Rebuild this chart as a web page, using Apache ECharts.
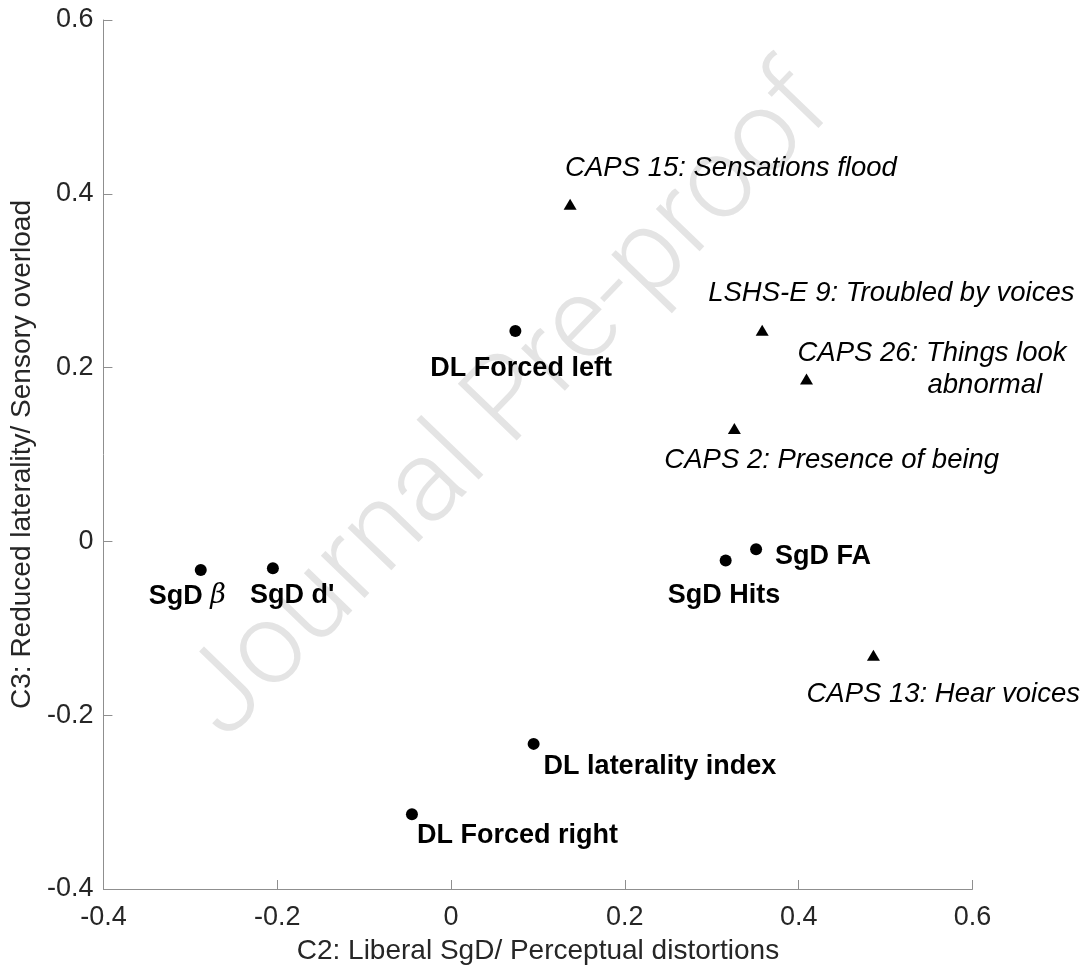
<!DOCTYPE html>
<html>
<head>
<meta charset="utf-8">
<script src="https://cdn.jsdelivr.net/npm/echarts@6/dist/echarts.min.js"></script>
<style>html,body{margin:0;padding:0;background:#fff;}#chart{width:1088px;height:970px;}</style>
</head>
<body>
<div id="chart"></div>
<script>
// ---- data ----
const circleNames = ['SgD β', "SgD d'", 'DL Forced left', 'SgD Hits', 'SgD FA', 'DL laterality index', 'DL Forced right'];
const circleX = [-0.288, -0.205, 0.074, 0.316, 0.351, 0.095, -0.045];
const circleY = [-0.033, -0.031, 0.242, -0.022, -0.009, -0.233, -0.314];

const triNames = ['CAPS 15: Sensations flood', 'LSHS-E 9: Troubled by voices', 'CAPS 26: Things look abnormal', 'CAPS 2: Presence of being', 'CAPS 13: Hear voices'];
const triX = [0.137, 0.358, 0.409, 0.326, 0.486];
const triY = [0.388, 0.243, 0.187, 0.130, -0.131];

const xTicks = [-0.4, -0.2, 0, 0.2, 0.4, 0.6];
const yTicks = [-0.4, -0.2, 0, 0.2, 0.4, 0.6];
const xTitle = 'C2: Liberal SgD/ Perceptual distortions';
const yTitle = 'C3: Reduced laterality/ Sensory overload';
const watermark = 'Journal Pre-proof';

// ---- label placement (offsets from marker centre to text left edge / middle) ----
const labelLayout = {
  'SgD β': [-52, 26],
  "SgD d'": [-23, 27],
  'DL Forced left': [-85, 37],
  'SgD Hits': [-58, 35],
  'SgD FA': [19, 7],
  'DL laterality index': [10, 23],
  'DL Forced right': [5, 21],
  'CAPS 15: Sensations flood': [-5, -36],
  'LSHS-E 9: Troubled by voices': [-54, -37],
  'CAPS 26: Things look abnormal': [-9, -10],
  'CAPS 2: Presence of being': [-70, 32],
  'CAPS 13: Hear voices': [-67, 39]
};

const FONT = "'Liberation Sans', Arial, Helvetica, sans-serif";
const TXT = '#000000';

function makeData(names, xs, ys) {
  return names.map((n, i) => ({
    name: n,
    value: [xs[i], ys[i]],
    label: { offset: labelLayout[n] }
  }));
}

const chart = echarts.init(document.getElementById('chart'), null, { renderer: 'canvas' });

const option = {
  backgroundColor: '#ffffff',
  animation: false,
  grid: { left: 101, right: 115.5, top: 20, bottom: 78, containLabel: false },
  xAxis: {
    type: 'value',
    min: xTicks[0], max: xTicks[xTicks.length - 1], interval: 0.2,
    name: xTitle, nameLocation: 'middle', nameGap: 48,
    nameTextStyle: { fontFamily: FONT, fontSize: 28, color: '#262626' },
    axisLine: { show: true, onZero: false, lineStyle: { color: '#8f8f8f', width: 1 } },
    axisTick: { show: true, inside: true, length: 9, lineStyle: { color: '#8f8f8f', width: 1 } },
    axisLabel: { fontFamily: FONT, fontSize: 27, color: '#262626', margin: 15,
      formatter: v => String(Math.round(v * 10) / 10) },
    splitLine: { show: false }
  },
  yAxis: {
    type: 'value',
    min: yTicks[0], max: yTicks[yTicks.length - 1], interval: 0.2,
    name: yTitle, nameLocation: 'middle', nameGap: 66, nameRotate: 90,
    nameTextStyle: { fontFamily: FONT, fontSize: 28, color: '#262626' },
    axisLine: { show: true, onZero: false, lineStyle: { color: '#8f8f8f', width: 1 } },
    axisTick: { show: true, inside: true, length: 9, lineStyle: { color: '#8f8f8f', width: 1 } },
    axisLabel: { fontFamily: FONT, fontSize: 27, color: '#262626', margin: 10,
      formatter: v => String(Math.round(v * 10) / 10) },
    splitLine: { show: false }
  },
  graphic: [{
    type: 'text',
    x: 510, y: 406,
    rotation: 46 * Math.PI / 180,
    z: 1,
    silent: true,
    style: {
      text: watermark,
      fontFamily: "Roboto, 'Liberation Sans', sans-serif",
      fontWeight: 300,
      fontSize: 115,
      fill: '#e4e4e4',
      align: 'center',
      verticalAlign: 'middle'
    }
  }],
  series: [
    {
      type: 'scatter',
      z: 5,
      symbol: 'circle',
      symbolSize: 12,
      itemStyle: { color: '#000', opacity: 1 },
      data: makeData(circleNames, circleX, circleY),
      label: {
        show: true,
        position: 'inside',
        align: 'left',
        verticalAlign: 'middle',
        opacity: 1,
        fontFamily: FONT,
        fontSize: 27,
        fontWeight: 'bold',
        color: TXT,
        formatter: p => {
          if (p.name === 'SgD β') return '{b|SgD }{g|β}';
          return '{b|' + p.name + '}';
        },
        rich: {
          b: { fontFamily: FONT, fontSize: 27, fontWeight: 'bold', color: TXT },
          g: { fontFamily: "'DejaVu Serif', serif", fontSize: 27, fontStyle: 'italic', fontWeight: 'normal', color: TXT }
        }
      }
    },
    {
      type: 'scatter',
      z: 5,
      symbol: 'triangle',
      symbolSize: [13, 11],
      itemStyle: { color: '#000', opacity: 1 },
      data: makeData(triNames, triX, triY),
      label: {
        show: true,
        position: 'inside',
        align: 'left',
        verticalAlign: 'middle',
        opacity: 1,
        fontFamily: FONT,
        fontSize: 27.5,
        fontStyle: 'italic',
        color: TXT,
        formatter: p => {
          if (p.name === 'CAPS 26: Things look abnormal') return '{i|CAPS 26: Things look}\n{j|abnormal}';
          return '{i|' + p.name + '}';
        },
        rich: {
          i: { fontFamily: FONT, fontSize: 27.5, fontStyle: 'italic', color: TXT, lineHeight: 32 },
          j: { fontFamily: FONT, fontSize: 27.5, fontStyle: 'italic', color: TXT, lineHeight: 32, padding: [0, 0, 0, 130] }
        }
      }
    }
  ]
};

chart.setOption(option);
</script>
</body>
</html>
